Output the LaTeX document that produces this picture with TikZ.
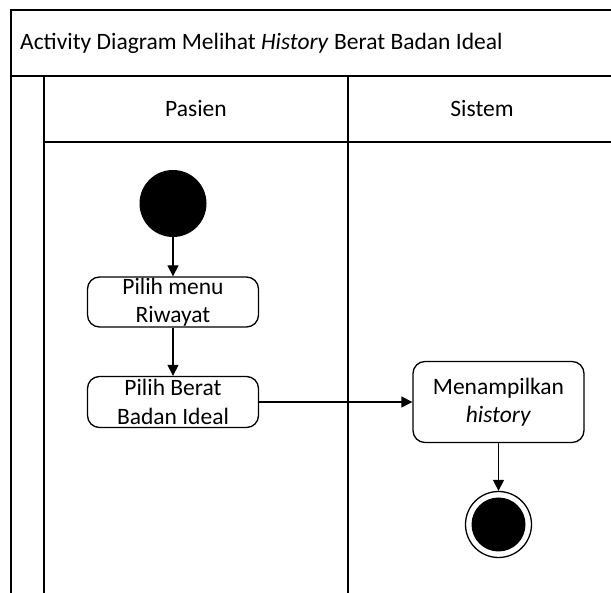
\documentclass[tikz,border=0pt]{standalone}
\usepackage{fontspec}
\setmainfont{Carlito}
\usetikzlibrary{arrows.meta}

\begin{document}
\begin{tikzpicture}[x=1pt,y=-1pt,
  frame/.style={line width=1.5pt},
  lbl/.style={font=\fontsize{23.5}{28.5}\selectfont, inner sep=0pt},
  actbox/.style={draw, line width=1.3pt, rounded corners=12pt, align=center,
    minimum width=171pt, font=\fontsize{23.5}{28.5}\selectfont, inner sep=0pt},
  startnode/.style={circle, fill=black, minimum size=67pt, inner sep=0pt},
  endouter/.style={circle, draw, line width=1.3pt, minimum size=66pt, inner sep=0pt},
  endinner/.style={circle, fill=black, minimum size=54pt, inner sep=0pt},
  flow/.style={line width=1.3pt, -{Triangle[length=11pt,width=11pt]}}
]
\useasboundingbox (0,0) rectangle (611,593);
\fill[white] (0,0) rectangle (611,593);
\begin{scope}
\clip (0,0) rectangle (611,593);

% swimlane frame
\draw[frame] (640,10) -- (11,10) -- (11,640);
\draw[frame] (11,76) -- (640,76);
\draw[frame] (44,76) -- (44,640);
\draw[frame] (44,142) -- (640,142);
\draw[frame] (348,76) -- (348,640);

% title and lane headers
\node[lbl, anchor=base west] (title) at (20,50)
  {Activity Diagram Melihat \textit{History} Berat Badan Ideal};
\node[lbl, anchor=base] (pasien) at (196,117) {Pasien};
\node[lbl, anchor=base] (sistem) at (482,117) {Sistem};

% activity nodes
\node[startnode] (start) at (173,203.5) {};
\node[actbox, minimum height=50pt] (riwayat) at (173,302) {Pilih menu\\Riwayat};
\node[actbox, minimum height=51pt] (ideal) at (173,402) {Pilih Berat\\Badan Ideal};
\node[actbox, minimum height=81pt] (tampil) at (498.5,402) {Menampilkan\\\textit{history}};
\node[endouter] (finish) at (498.5,524.5) {};
\node[endinner] (finishdot) at (finish.center) {};

% control flows
\draw[flow] (start) -- (riwayat);
\draw[flow] (riwayat) -- (ideal);
\draw[flow] (ideal) -- (tampil);
\draw[flow] (tampil) -- (finish);
\end{scope}
\end{tikzpicture}
\end{document}
